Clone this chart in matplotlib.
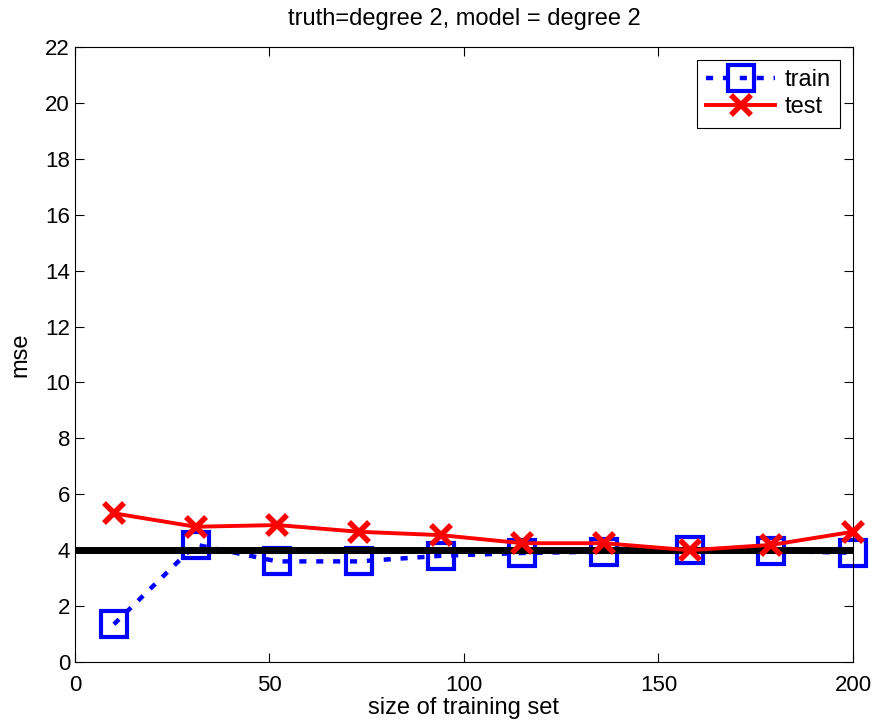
import matplotlib
matplotlib.use('Agg')
import matplotlib.pyplot as plt
import numpy as np

# training set sizes and errors
sizes = [10, 31, 52, 73, 94, 115, 136, 158, 179, 200]
train_mse = [1.35, 4.2, 3.6, 3.6, 3.8, 3.9, 3.95, 4.0, 3.97, 3.91]
test_mse = [5.32, 4.84, 4.9, 4.66, 4.54, 4.25, 4.25, 4.0, 4.19, 4.66]
noise_level = 4.0

plt.rcParams['font.family'] = ['Liberation Sans', 'DejaVu Sans']

fig = plt.figure(figsize=(8.77, 7.24), dpi=100)
ax = fig.add_axes([0.0855, 0.0856, 0.8871, 0.8494])

ax.plot(sizes, train_mse, color='blue', linestyle=(0, (1.6, 2.2)), lw=3.2,
        marker='s', ms=19, mfc='none', mec='blue', mew=3, label='train',
        clip_on=False, zorder=2)
ax.plot([0, 200], [noise_level, noise_level], color='black', lw=5, zorder=3)
ax.plot(sizes, test_mse, color='red', linestyle='-', lw=2.8,
        marker='x', ms=15, mec='red', mew=4, label='test',
        clip_on=False, zorder=4)

ax.set_xlim(0, 200)
ax.set_ylim(0, 22)
ax.set_xticks(np.arange(0, 201, 50))
ax.set_yticks(np.arange(0, 23, 2))
ax.tick_params(direction='in', top=True, right=True, labelsize=16, length=6.5, width=0.8)
ax.tick_params(axis='x', pad=9)
for s in ax.spines.values():
    s.set_linewidth(0.8)

ax.set_xlabel('size of training set', fontsize=17, labelpad=1)
ax.set_ylabel('mse', fontsize=17, labelpad=10)
ax.set_title('truth=degree 2, model = degree 2', fontsize=17, pad=16)

leg = ax.legend(loc='upper right', fontsize=17, fancybox=False, edgecolor='black',
                framealpha=1, handlelength=2.9, borderaxespad=0.55, labelspacing=0.2,
                handletextpad=0.4, borderpad=0.4)
leg.get_frame().set_linewidth(0.8)

fig.savefig('out.png', dpi=100)
